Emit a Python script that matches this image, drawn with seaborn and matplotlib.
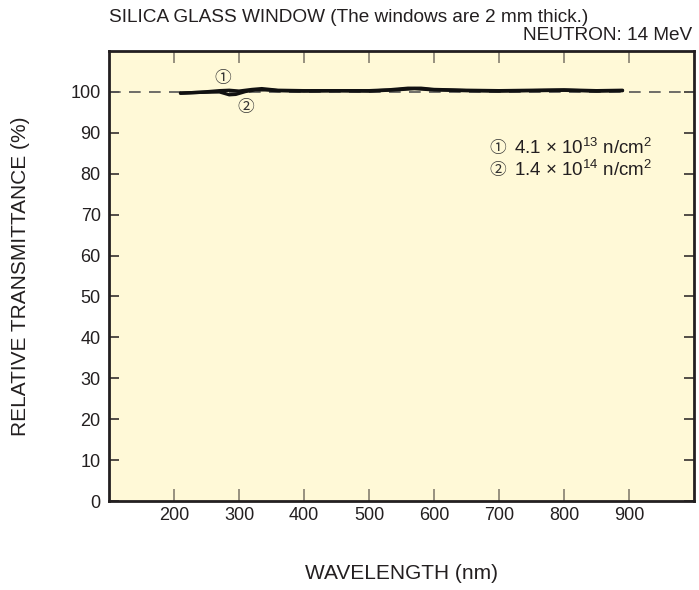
import seaborn as sns
import matplotlib.pyplot as plt
import pandas as pd

# Datos
wl_1 = [210, 240, 270, 285, 300, 320, 335, 360, 400, 450, 500, 530, 560, 580, 600, 650, 700, 750, 800, 850, 890]
trans_1 = [99.7, 99.9, 100.3, 100.4, 100.2, 100.6, 100.8, 100.4, 100.3, 100.3, 100.3, 100.5, 100.9, 100.9, 100.6, 100.4, 100.3, 100.4, 100.5, 100.3, 100.4]
wl_2 = [210, 240, 270, 285, 295, 310, 325, 340, 360, 400, 450, 500, 540, 570, 600, 650, 700, 750, 800, 850, 890]
trans_2 = [99.7, 99.9, 100.0, 99.3, 99.4, 100.1, 100.5, 100.5, 100.3, 100.2, 100.3, 100.2, 100.5, 100.8, 100.5, 100.3, 100.2, 100.3, 100.4, 100.2, 100.3]
dose_labels = ["4.1 × 10$^{13}$ n/cm$^{2}$", "1.4 × 10$^{14}$ n/cm$^{2}$"]
circled = ["①", "②"]

x_ticks = [200, 300, 400, 500, 600, 700, 800, 900]
y_ticks = [0, 10, 20, 30, 40, 50, 60, 70, 80, 90, 100]

df = pd.concat([
    pd.DataFrame({"wl": wl_1, "t": trans_1, "dose": "1"}),
    pd.DataFrame({"wl": wl_2, "t": trans_2, "dose": "2"}),
])

sns.set_style("ticks")
plt.rcParams["font.family"] = ["Liberation Sans", "Noto Sans CJK JP", "DejaVu Sans"]
plt.rcParams["mathtext.fontset"] = "custom"
plt.rcParams["mathtext.rm"] = "Liberation Sans"
plt.rcParams["mathtext.default"] = "rm"

txt = "#231f20"
fig = plt.figure(figsize=(6.99, 5.90), dpi=100)
ax = fig.add_axes([109 / 699, 1 - 501 / 590, 585 / 699, 450 / 590])
ax.set_facecolor("#fff9d7")

ax.axhline(100, color="#555555", lw=1.2, ls=(0, (7, 5)), zorder=1)
sns.lineplot(data=df, x="wl", y="t", hue="dose", palette=["#111111", "#111111"],
             lw=2.4, legend=False, ax=ax, zorder=3)

ax.set_xlim(100, 1000)
ax.set_ylim(0, 110)
ax.set_xticks(x_ticks)
ax.set_yticks(y_ticks)
ax.tick_params(axis="x", direction="in", length=8.6, width=1.1, color="#7a7568",
               top=True, labelsize=13, labelcolor=txt, pad=4)
ax.tick_params(axis="y", direction="in", length=7.2, width=1.1, color=txt,
               right=True, labelsize=13, labelcolor=txt, pad=6)
for s in ax.spines.values():
    s.set_linewidth(2)
    s.set_color(txt)

ax.set_xlabel("WAVELENGTH (nm)", fontsize=15, color=txt)
ax.xaxis.label.set_va("center")
ax.xaxis.set_label_coords(0.5, -0.162)
ax.set_ylabel("RELATIVE TRANSMITTANCE (%)", fontsize=15, color=txt)
ax.yaxis.label.set_va("center")
ax.yaxis.set_label_coords(-0.152, 0.5)

# marcadores de curva
ax.text(275, 103.4, circled[0], fontsize=12, color="#333333", ha="center", va="center")
ax.text(311, 96.1, circled[1], fontsize=12, color="#333333", ha="center", va="center")

# leyenda en texto
for i, (c, lab) in enumerate(zip(circled, dose_labels)):
    y = 0.784 - i * 0.049
    ax.text(0.650, y, c, transform=ax.transAxes, fontsize=12, color="#333333",
            ha="left", va="center")
    ax.text(0.692, y, lab, transform=ax.transAxes, fontsize=13.5, color=txt,
            ha="left", va="center")

fig.text(109 / 699, 1 - 17 / 590, "SILICA GLASS WINDOW (The windows are 2 mm thick.)",
         fontsize=13.7, color=txt, ha="left", va="center")
fig.text(692 / 699, 1 - 36 / 590, "NEUTRON: 14 MeV",
         fontsize=13.7, color=txt, ha="right", va="center")

fig.savefig("out.png", dpi=100)
